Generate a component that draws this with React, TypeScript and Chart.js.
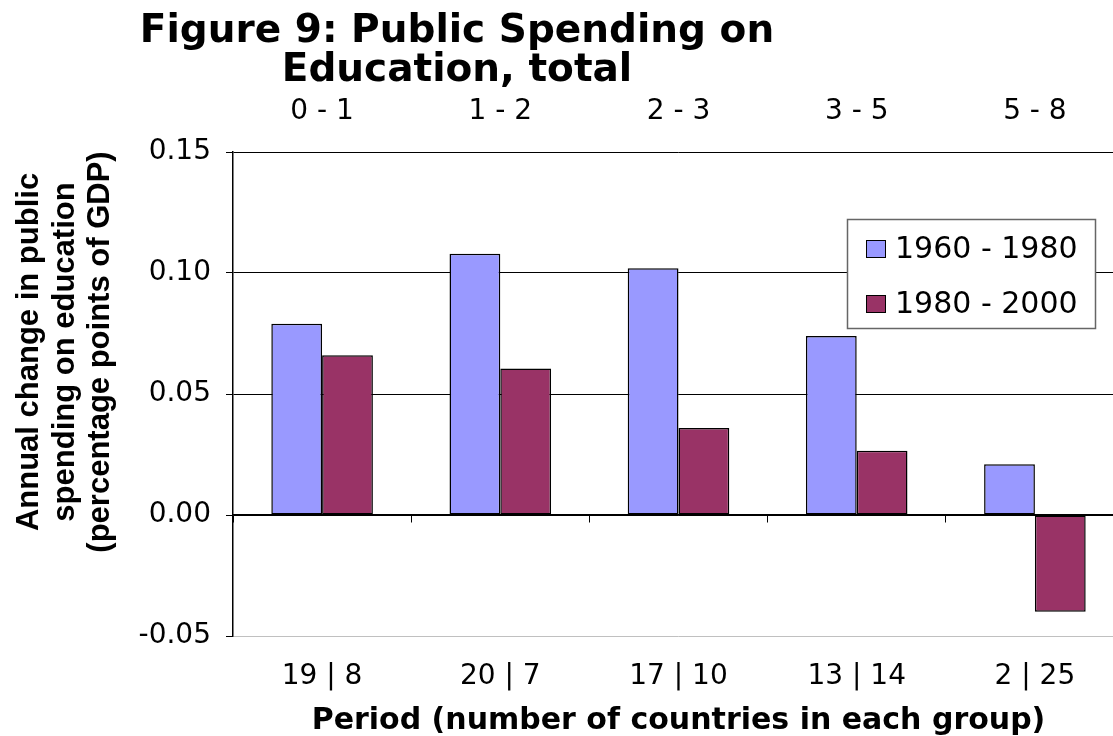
import React, { useEffect, useRef } from "react";
import { Chart, registerables } from "chart.js";

Chart.register(...registerables);

// ---- data ----
const periods = ["0 - 1", "1 - 2", "2 - 3", "3 - 5", "5 - 8"];
const countryCounts = ["19 | 8", "20 | 7", "17 | 10", "13 | 14", "2 | 25"];
const seriesLabels = ["1960 - 1980", "1980 - 2000"];
const values1960 = [0.079, 0.108, 0.102, 0.074, 0.021];
const values1980 = [0.066, 0.0605, 0.036, 0.0265, -0.04];
const yTicks = [-0.05, 0, 0.05, 0.1, 0.15];
const titleLines = ["Figure 9: Public Spending on", "Education, total"];
const yTitleLines = [
  "Annual change in public",
  "spending on education",
  "(percentage points of GDP)",
];
const xTitle = "Period (number of countries in each group)";

const BLUE = "#9999FF";
const PLUM = "#993366";
const FONT = '"DejaVu Sans", Verdana, sans-serif';

export default function App() {
  const ref = useRef<HTMLCanvasElement>(null);

  useEffect(() => {
    const canvas = ref.current!;
    const colors = [BLUE, PLUM];

    const overlay = {
      id: "overlay",
      afterDraw(chart: any) {
        const ctx = chart.ctx as CanvasRenderingContext2D;
        ctx.save();
        ctx.fillStyle = "#000";
        // main title
        ctx.font = `bold 39px ${FONT}`;
        ctx.textAlign = "center";
        ctx.textBaseline = "alphabetic";
        titleLines.forEach((t, i) => ctx.fillText(t, 457, 42 + i * 39));
        // y-axis title (3 lines, rotated)
        ctx.font = 'bold 31px "Liberation Sans", Arial, sans-serif';
        yTitleLines.forEach((t, i) => {
          ctx.save();
          ctx.translate(38 + i * 35.5, 352);
          ctx.rotate(-Math.PI / 2);
          ctx.fillText(t, 0, 0);
          ctx.restore();
        });
        // legend box
        const bx = 847, by = 219, bw = 248, bh = 109;
        ctx.fillStyle = "#fff";
        ctx.fillRect(bx, by, bw, bh);
        ctx.strokeStyle = "#666";
        ctx.lineWidth = 1.5;
        ctx.strokeRect(bx + 0.5, by + 0.5, bw, bh);
        ctx.font = `30px ${FONT}`;
        ctx.textAlign = "left";
        ctx.textBaseline = "middle";
        chart.data.datasets.forEach((ds: any, i: number) => {
          const cy = 249 + i * 55;
          ctx.fillStyle = ds.backgroundColor;
          ctx.fillRect(866, cy - 9, 19, 17);
          ctx.strokeStyle = "#000";
          ctx.lineWidth = 1;
          ctx.strokeRect(866.5, cy - 8.5, 19, 17);
          ctx.fillStyle = "#000";
          ctx.fillText(ds.label, 895, cy + 1);
        });
        ctx.restore();
      },
    };

    const chart = new Chart(canvas, {
      type: "bar",
      data: {
        labels: periods,
        datasets: [values1960, values1980].map((vals, i) => ({
          label: seriesLabels[i],
          data: vals,
          backgroundColor: colors[i],
          borderColor: "#000",
          borderWidth: 1.5,
          borderSkipped: false,
          categoryPercentage: 0.57,
          barPercentage: 1,
        })),
      },
      options: {
        responsive: false,
        animation: false,
        layout: { padding: 0 },
        plugins: {
          legend: { display: false },
          title: { display: false },
          tooltip: { enabled: false },
        },
        scales: {
          x: {
            type: "category",
            position: { y: 0 } as any,
            offset: true,
            ticks: { display: false },
            grid: {
              offset: true,
              drawOnChartArea: false,
              drawTicks: true,
              tickLength: 7,
              color: "#000",
              lineWidth: 1,
            },
            border: { display: true, color: "#000", width: 1.5 },
          },
          xBottom: {
            type: "category",
            position: "bottom",
            labels: countryCounts,
            offset: true,
            grid: { display: false, drawTicks: false, tickLength: 0 },
            border: { display: false },
            ticks: {
              color: "#000",
              font: { family: FONT, size: 28 },
              padding: 24,
              maxRotation: 0,
              autoSkip: false,
            },
            title: {
              display: true,
              text: xTitle,
              color: "#000",
              font: { family: FONT, size: 30, weight: "bold", lineHeight: 1 },
              padding: 0,
            },
            afterFit: (s: any) => {
              s.height = 100;
            },
          },
          xTop: {
            type: "category",
            position: "top",
            labels: periods,
            offset: true,
            grid: { display: false, drawTicks: false, tickLength: 0 },
            border: { display: false },
            ticks: {
              color: "#000",
              font: { family: FONT, size: 28 },
              padding: 23,
              maxRotation: 0,
              autoSkip: false,
            },
            afterFit: (s: any) => {
              s.height = 152;
            },
          },
          y: {
            type: "linear",
            min: -0.05,
            max: 0.15,
            afterBuildTicks: (s: any) => {
              s.ticks = yTicks.map((v) => ({ value: v }));
            },
            ticks: {
              color: "#000",
              font: { family: FONT, size: 28 },
              padding: 15,
              callback: (v: any) => Number(v).toFixed(2),
            },
            grid: {
              color: (c: any) =>
                c.tick && Math.abs(c.tick.value + 0.05) < 1e-9 ? "#c0c0c0" : "#000",
              tickColor: "#000",
              tickLength: 7,
              lineWidth: 1,
            },
            border: { display: true, color: "#000", width: 1.5 },
            afterFit: (s: any) => {
              s.width = 233;
            },
          },
        },
      },
      plugins: [overlay],
    });
    return () => chart.destroy();
  }, []);

  return (
    <div
      style={{
        position: "absolute",
        left: 0,
        top: 0,
        width: 1113,
        height: 736,
        overflow: "hidden",
        background: "#fff",
      }}
    >
      <canvas ref={ref} width={1124} height={736} style={{ display: "block" }} />
    </div>
  );
}
